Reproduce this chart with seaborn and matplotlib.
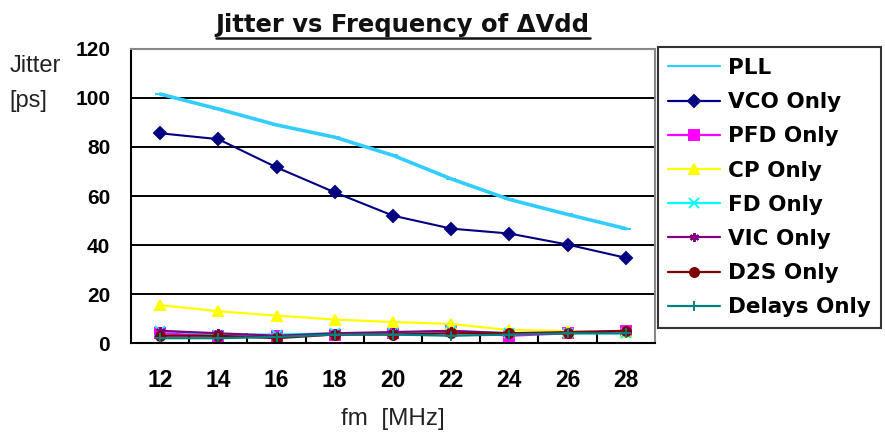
import numpy as np
import pandas as pd
import matplotlib
matplotlib.use("Agg")
import matplotlib.pyplot as plt
from matplotlib.lines import Line2D
import seaborn as sns

# Modulation frequency of the supply ripple [MHz]
freq = [12, 14, 16, 18, 20, 22, 24, 26, 28]

# Jitter [ps] per noise-injection case
pll = [101.6, 95.5, 89.0, 84.0, 76.6, 67.0, 58.6, 52.5, 46.7]
vco_only = [85.6, 83.2, 71.7, 61.5, 52.0, 46.7, 44.7, 40.2, 34.8]
pfd_only = [4.0, 3.0, 3.0, 3.5, 4.0, 5.0, 3.0, 4.0, 5.0]
cp_only = [15.5, 13.0, 11.2, 9.6, 8.6, 7.8, 5.3, 5.0, 4.5]
fd_only = [5.0, 3.5, 3.5, 4.0, 4.0, 5.0, 4.0, 4.0, 4.0]
vic_only = [5.0, 4.0, 3.0, 4.0, 4.5, 5.0, 4.0, 4.5, 5.0]
d2s_only = [3.0, 3.0, 2.0, 3.5, 3.5, 4.0, 4.0, 4.0, 5.0]
delays_only = [2.0, 2.0, 2.5, 3.5, 3.5, 3.0, 3.5, 4.0, 4.0]

series_names = ["PLL", "VCO Only", "PFD Only", "CP Only", "FD Only",
                "VIC Only", "D2S Only", "Delays Only"]
series_values = [pll, vco_only, pfd_only, cp_only, fd_only,
                 vic_only, d2s_only, delays_only]

colors = ["#33CCFF", "#000080", "#FF00FF", "#FFFF00", "#00FFFF",
          "#800080", "#800000", "#008080"]
markers = ["_", "D", "s", "^", "x", (6, 2, 0), "o", "+"]
line_widths = [2.6, 1.5, 1.6, 1.6, 1.6, 1.6, 1.6, 1.6]

df = pd.DataFrame(
    [(f, v, name) for name, vals in zip(series_names, series_values)
     for f, v in zip(freq, vals)],
    columns=["fm", "jitter", "series"],
)

sns.set_theme(style="white")
plt.rcParams["font.family"] = ["Liberation Sans", "DejaVu Sans"]

fig = plt.figure(figsize=(8.85, 4.41), dpi=100)
ax = fig.add_axes([0.148, 0.222, 0.592, 0.667])

# one call per series: filled and line-art markers are mixed here
for name, c, m, lw in zip(series_names, colors, markers, line_widths):
    sns.lineplot(
        data=df[df["series"] == name], x="fm", y="jitter",
        color=c, marker=m, markersize=6.5, markeredgewidth=1.4,
        markerfacecolor=c, markeredgecolor=c,
        linewidth=lw, ax=ax, legend=False,
    )

ax.set_xlim(11, 29)
ax.set_ylim(0, 120)
ax.set_yticks(np.arange(0, 121, 20))
ax.set_xticks(freq)
ax.set_xticks(np.arange(13, 28, 2), minor=True)
ax.yaxis.grid(True, color="black", linewidth=1.4)
ax.set_axisbelow(True)
for side in ["left", "bottom"]:
    ax.spines[side].set_color("black")
    ax.spines[side].set_linewidth(1.5)
for side in ["top", "right"]:
    ax.spines[side].set_color("#888888")
    ax.spines[side].set_linewidth(1.5)

ax.tick_params(axis="x", which="major", length=0, pad=19,
               labelsize=16.5, labelcolor="black")
ax.tick_params(axis="x", which="minor", direction="in", length=7,
               width=1.5, color="black", bottom=True)
ax.tick_params(axis="y", which="major", length=0, pad=15, labelsize=15,
               labelcolor="black")
for lbl in ax.get_xticklabels() + ax.get_yticklabels():
    lbl.set_fontweight("bold")

ax.set_xlabel("fm  [MHz]", fontsize=17.5, color="#222222", labelpad=11)
ax.set_ylabel("")
fig.text(0.011, 0.850, "Jitter", fontsize=17, color="#222222",
         ha="left", va="center")
fig.text(0.011, 0.771, "[ps]", fontsize=17, color="#222222",
         ha="left", va="center")

# underlined title
title = fig.text(0.455, 0.944, "Jitter vs Frequency of \u0394Vdd",
                 fontsize=17.5, fontweight="bold", color="#111111",
                 family=["DejaVu Sans"], ha="center", va="center")
fig.canvas.draw()
bb = title.get_window_extent().transformed(fig.transFigure.inverted())
fig.add_artist(Line2D([bb.x0, bb.x1], [bb.y0 - 0.004, bb.y0 - 0.004],
                      color="#111111", linewidth=1.8,
                      transform=fig.transFigure))

handles = [Line2D([0], [0], color=c, marker=m, markersize=6.5,
                  markeredgewidth=1.4, markerfacecolor=c, markeredgecolor=c,
                  linewidth=1.6)
           for c, m in zip(colors, markers)]
leg = fig.legend(handles, series_names, loc="upper left",
                 bbox_to_anchor=(0.743, 0.893), borderaxespad=0,
                 frameon=True, fancybox=False, edgecolor="black",
                 prop={"size": 15.5, "weight": "bold", "family": "DejaVu Sans"},
                 labelcolor="black",
                 handlelength=2.4, handletextpad=0.35, labelspacing=0.66,
                 borderpad=0.5)
leg.get_frame().set_linewidth(1.5)

fig.savefig("out.png", dpi=100)
